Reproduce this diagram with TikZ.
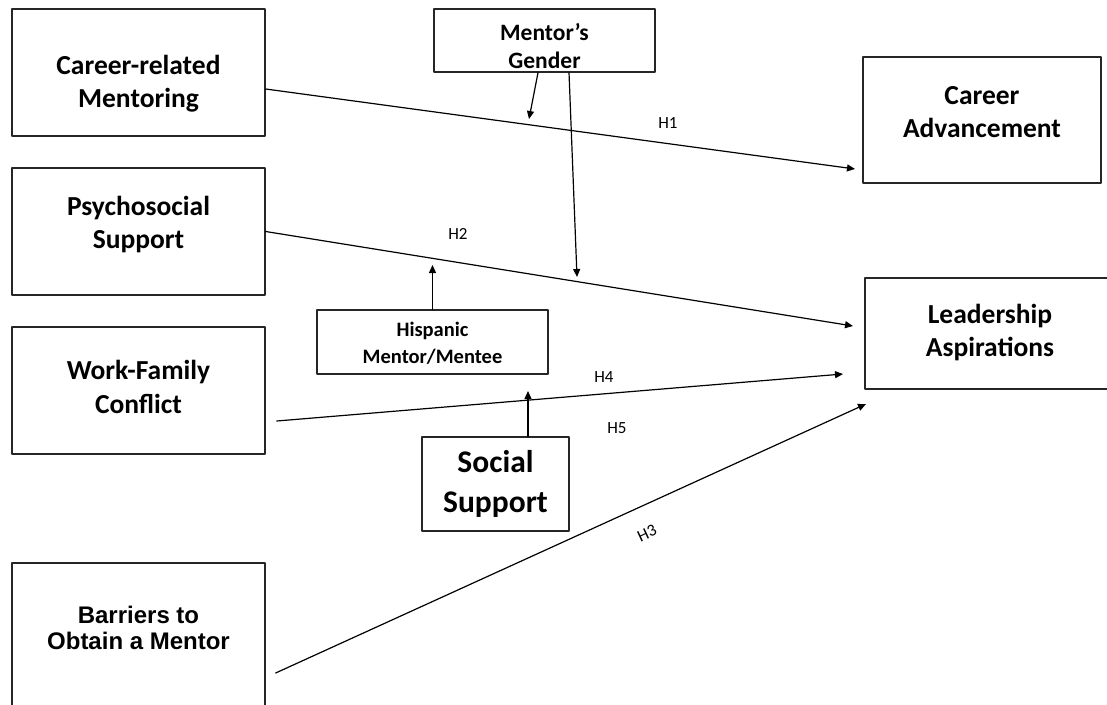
\documentclass[tikz,border=0pt]{standalone}
\usepackage{fontspec}
\setmainfont{Carlito}
\newfontfamily\arialfont{Liberation Sans}
\usetikzlibrary{arrows.meta}

\tikzset{
  box/.style={draw=black!85, line width=1.3pt, rectangle, inner sep=0pt},
  boxtext/.style={align=center, inner sep=0pt,
                  font=\bfseries\fontsize{27.5}{33.5}\selectfont},
  modtext/.style={align=center, inner sep=0pt},
  hyp/.style={inner sep=0pt, font=\fontsize{17}{20}\selectfont},
  link/.style={->, line width=1.2pt}
}

\begin{document}
\begin{tikzpicture}[x=1pt, y=-1pt, >={Triangle[length=8pt,width=7pt]},
                    line cap=round, line join=round]
  \useasboundingbox (0,0) rectangle (1107,704);

  % ---- Boxes: name / centre x / centre y / width / height ----
  \foreach \n/\x/\y/\w/\h in {crm/138.5/72.5/253/127,   % career-related mentoring
                              psy/138.5/231.5/253/127,  % psychosocial support
                              wfc/138.5/390.5/253/127,  % work-family conflict
                              bar/138.5/636.5/253/147,  % barriers (runs off the page)
                              mg/544.5/40.5/221/63,     % mentor's gender
                              his/432.5/342/231/64,     % hispanic mentor/mentee
                              ss/495.5/484/147/94,      % social support
                              ca/982/120/238/126,       % career advancement
                              la/990/333.5/250/111}     % leadership aspirations
    \node[box, minimum width=\w pt, minimum height=\h pt] (\n) at (\x,\y) {};

  % ---- Box texts ----
  \node[boxtext] (crm-t) at (138.5,83.5)  {Career-related\\Mentoring};
  \node[boxtext] (psy-t) at (138.5,224.5) {Psychosocial\\Support};
  \node[boxtext] (wfc-t) at (138.5,386.7) {Work-Family\\Conflict};
  \node[modtext, font=\arialfont\bfseries\fontsize{24}{26.5}\selectfont]
                 (bar-t) at (138.5,628)   {Barriers to\\Obtain a Mentor};
  \node[modtext, font=\bfseries\fontsize{23.5}{28}\selectfont]
                 (mg-t)  at (544.5,45.6)  {Mentor’s\\Gender};
  \node[modtext, font=\bfseries\fontsize{20.5}{27}\selectfont]
                 (his-t) at (432.5,343)   {Hispanic\\Mentor/Mentee};
  \node[modtext, font=\bfseries\fontsize{31.5}{40}\selectfont]
                 (ss-t)  at (495.5,484.4) {Social\\Support};
  \node[boxtext] (ca-t)  at (982,112.2)   {Career\\Advancement};
  \node[boxtext] (la-t)  at (990,332.5)   {Leadership\\Aspirations};

  % ---- Free ends of the paths ----
  \coordinate (h1end) at (855,169);
  \coordinate (h2end) at (853,326);
  \coordinate (h4end) at (843,374);
  \coordinate (h3end) at (866,404);
  \coordinate (mg1end) at (529,119);   % onto H1
  \coordinate (mg2end) at (577,277);   % onto H2
  \coordinate (hisend) at (432.5,265); % onto H2
  \coordinate (ssend)  at (528,391);   % onto H4

  % ---- Hypothesised paths ----
  \draw[link] ([yshift=-16.5pt]crm.east) -- (h1end);
  \draw[link] (psy.east) -- (h2end);
  \draw[link] ([xshift=11pt, yshift=-30.5pt]wfc.east) -- (h4end);
  \draw[link] ([xshift=10pt, yshift=-36.5pt]bar.east) -- (h3end);

  % ---- Moderators ----
  \draw[link] ([xshift=-6.5pt]mg.south) -- (mg1end);
  \draw[link] ([xshift=24.5pt]mg.south) -- (mg2end);
  \draw[link] (his.north) -- (hisend);
  \draw[link] ([xshift=32.5pt]ss.north) -- (ssend);

  % ---- Hypothesis labels ----
  \node[hyp] (H1) at (668,123) {H1};
  \node[hyp] (H2) at (458,234) {H2};
  \node[hyp] (H4) at (604,377) {H4};
  \node[hyp] (H5) at (617,428) {H5};
  \node[hyp, rotate=25] (H3) at (647,533) {H3};
\end{tikzpicture}
\end{document}
